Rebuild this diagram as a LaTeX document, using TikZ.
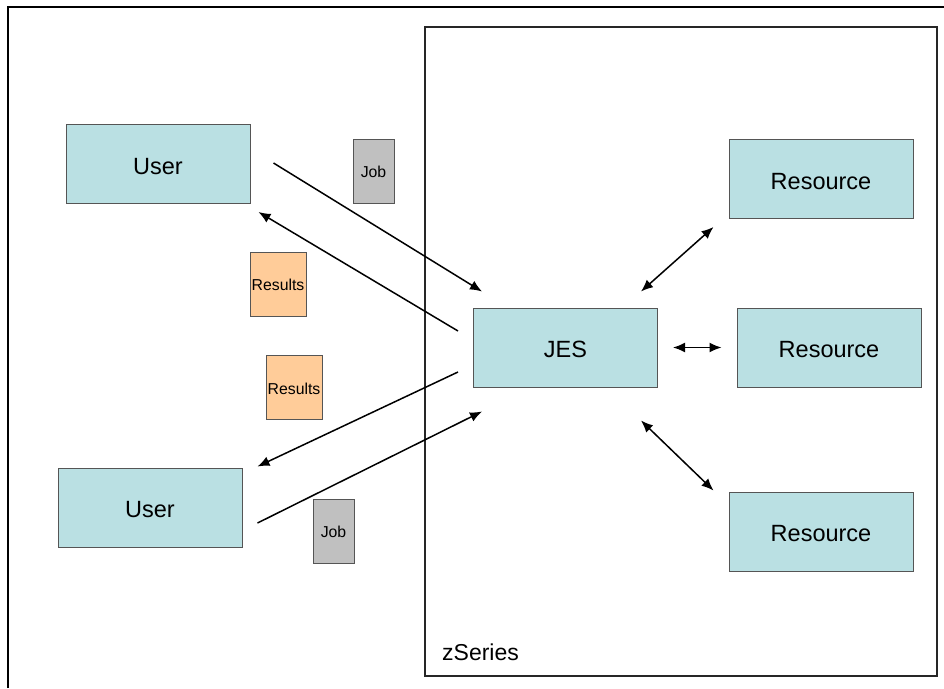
\documentclass[tikz,border=0pt]{standalone}
\usepackage{fontspec}
\setmainfont{Liberation Sans}
\usetikzlibrary{arrows.meta,calc}
\definecolor{boxblue}{RGB}{186,224,227}
\definecolor{jobgray}{RGB}{192,192,192}
\definecolor{resorange}{RGB}{255,204,153}
\definecolor{boxedge}{RGB}{85,85,85}
\tikzset{
  bigbox/.style={draw=boxedge, line width=1pt, fill=boxblue, minimum width=184pt, minimum height=79pt, inner sep=0pt, text height=20.5pt, text depth=0pt, font=\fontsize{23.5}{28}\selectfont},
  jobbox/.style={draw=boxedge, line width=1pt, fill=jobgray, minimum width=41pt, minimum height=64pt, inner sep=0pt, text height=13.5pt, text depth=0pt, font=\fontsize{15.8}{18}\selectfont},
  resbox/.style={draw=boxedge, line width=1pt, fill=resorange, minimum width=56pt, minimum height=64pt, inner sep=0pt, text height=13.5pt, text depth=0pt, font=\fontsize{15.8}{18}\selectfont},
  flow/.style={line width=1.5pt, -{Latex[length=12pt,width=10pt]}},
  bflow/.style={line width=1.5pt, {Latex[length=12pt,width=10pt]}-{Latex[length=12pt,width=10pt]}}
}
\begin{document}
\begin{tikzpicture}[x=1pt,y=-1pt]
\useasboundingbox (0,0) rectangle (944,688);
\fill[white] (0,0) rectangle (944,688);
% outer frame
\draw[line width=1.5pt] (8,688) -- (8,7) -- (944,7);
% zSeries box
\draw[line width=1.3pt, draw=black!85] (425,27) rectangle (937,676);
\node[anchor=base west, inner sep=0pt, font=\fontsize{23}{28}\selectfont] (zs) at (442,660) {zSeries};
% nodes
\node[bigbox] (u1) at (158,164) {User};
\node[bigbox] (u2) at (150,507.5) {User};
\node[bigbox] (jes) at (565.5,347.5) {JES};
\node[bigbox] (r1) at (821,179) {Resource};
\node[bigbox] (r2) at (829,347.5) {Resource};
\node[bigbox] (r3) at (821,531.5) {Resource};
\node[jobbox] (job1) at (373.5,171) {Job};
\node[jobbox] (job2) at (333.5,531) {Job};
\node[resbox] (res1) at (278,284) {Results};
\node[resbox] (res2) at (294,387.5) {Results};
% connectors
\draw[flow] ($(u1.east)+(23,-1)$) -- ($(jes.north west)+(9,-16)$);
\draw[flow] ($(jes.west)+(-15,-16.5)$) -- ($(u1.south east)+(8,8)$);
\draw[flow] ($(jes.west)+(-15,24.5)$) -- ($(u2.north east)+(15,-1)$);
\draw[flow] ($(u2.east)+(15,15.5)$) -- ($(jes.south west)+(9,24)$);
\draw[bflow] ($(jes.north east)+(-17,-16)$) -- ($(r1.south west)+(-15,8)$);
\draw[bflow] ($(jes.east)+(15,0)$) -- ($(r2.west)+(-15,0)$);
\draw[bflow] ($(jes.south east)+(-17,33)$) -- ($(r3.north west)+(-15,-1)$);
\end{tikzpicture}
\end{document}
